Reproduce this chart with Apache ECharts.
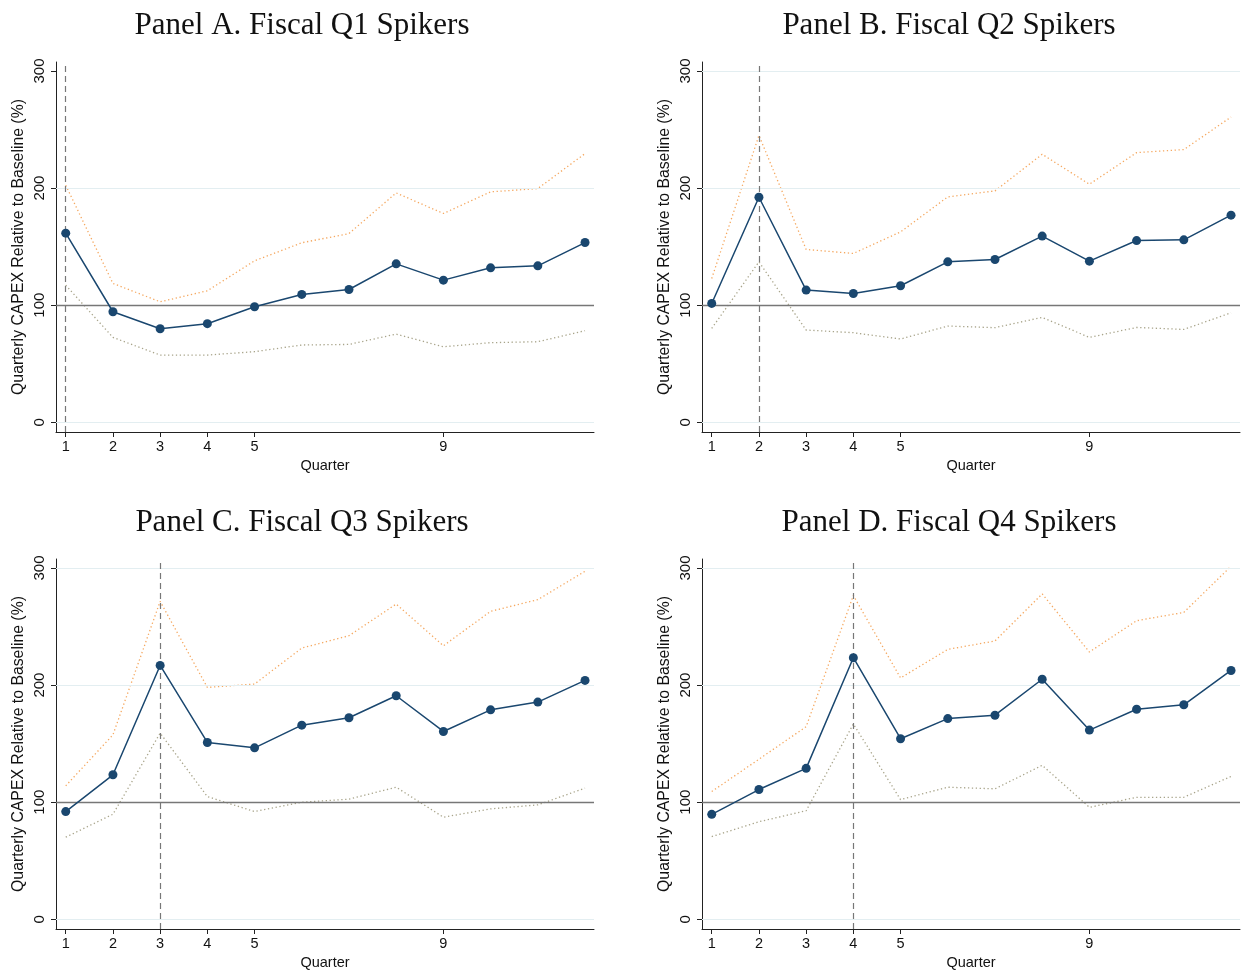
<!DOCTYPE html>
<html>
<head>
<meta charset="utf-8">
<script src="https://cdn.jsdelivr.net/npm/echarts@6/dist/echarts.min.js"></script>
<style>
html,body{margin:0;padding:0;background:#fff;}
#chart{width:1248px;height:972px;}
</style>
</head>
<body>
<div id="chart"></div>
<script>
// ---- data ----
const quarters = [1,2,3,4,5,6,7,8,9,10,11,12];
const xTickLabels = [1,2,3,4,5,9];
const yTickValues = [0,100,200,300];
const baselineValue = 100;

const panelTitles = [
  'Panel A. Fiscal Q1 Spikers',
  'Panel B. Fiscal Q2 Spikers',
  'Panel C. Fiscal Q3 Spikers',
  'Panel D. Fiscal Q4 Spikers'
];
const spikeQuarters = [1,2,3,4];

const aEstimate = [161.5, 94.4, 79.9, 84.2, 98.7, 109.2, 113.4, 135.3, 121.4, 131.9, 133.6, 153.5];
const aUpper    = [202.4, 118.6, 102.9, 112.3, 137.9, 153.3, 161.2, 195.9, 178.3, 196.8, 199.6, 229.5];
const aLower    = [117.1, 72.5, 57.4, 57.4, 60.3, 66.0, 66.5, 75.3, 64.5, 68.0, 68.8, 78.2];

const bEstimate = [101.5, 192.2, 112.9, 110.0, 116.6, 137.0, 139.0, 159.0, 137.6, 155.2, 155.8, 176.9];
const bUpper    = [122.8, 245.0, 147.6, 144.2, 162.6, 192.5, 197.6, 228.9, 203.3, 230.3, 232.9, 260.7];
const bLower    = [80.2, 137.0, 78.8, 76.5, 71.1, 82.2, 80.8, 89.6, 72.5, 81.0, 79.3, 93.5];

const cEstimate = [92.0, 123.4, 216.8, 151.0, 146.4, 165.8, 172.1, 190.9, 160.4, 178.9, 185.5, 204.0];
const cUpper    = [114.0, 157.5, 271.5, 198.0, 200.9, 231.6, 242.2, 269.2, 233.6, 263.0, 273.0, 297.2];
const cLower    = [70.1, 89.7, 159.0, 104.8, 92.0, 100.0, 102.6, 112.8, 87.2, 94.3, 97.7, 112.0];

const dEstimate = [89.6, 110.8, 128.9, 223.4, 154.2, 171.4, 174.3, 205.0, 161.6, 179.4, 183.2, 212.5];
const dUpper    = [109.1, 136.7, 164.5, 276.5, 206.1, 230.5, 237.7, 277.9, 228.3, 255.0, 262.1, 301.5];
const dLower    = [70.6, 83.3, 92.7, 166.8, 102.2, 112.8, 111.4, 131.5, 95.6, 104.2, 104.2, 122.0];

const panelGridValues = [[0,200],[0,200,300],[0,200,300],[0,200,300]];

// ---- layout ----
const estimates = [aEstimate, bEstimate, cEstimate, dEstimate];
const uppers = [aUpper, bUpper, cUpper, dUpper];
const lowers = [aLower, bLower, cLower, dLower];

const gridLefts = [56, 702, 56, 702];
const gridTops = [62, 62, 559, 559];
const gridW = 538, gridH = 370;
const titleX = [297, 944, 297, 944];
const titleY = [5, 5, 502, 502];

const navy = '#1a476f';
const sans = 'Liberation Sans, Arial, sans-serif';

const option = {
  animation: false,
  backgroundColor: '#fff',
  title: [], grid: [], xAxis: [], yAxis: [], series: []
};

for (let i = 0; i < 4; i++) {
  option.title.push({
    text: panelTitles[i],
    left: titleX[i], top: titleY[i], textAlign: 'center',
    textStyle: {fontFamily: 'Liberation Serif, Times New Roman, serif', fontSize: 31, fontWeight: 'normal', color: '#111'}
  });
  option.grid.push({left: gridLefts[i], top: gridTops[i], width: gridW, height: gridH, containLabel: false});
  option.xAxis.push({
    type: 'value', gridIndex: i, min: 0.794, max: 12.19,
    name: 'Quarter', nameLocation: 'middle', nameGap: 26,
    nameTextStyle: {fontFamily: sans, fontSize: 14.5, color: '#111'},
    axisLine: {show: true, onZero: false, lineStyle: {color: '#222', width: 1}},
    axisTick: {show: true, length: 5, lineStyle: {color: '#222'}, customValues: xTickLabels},
    axisLabel: {fontFamily: sans, fontSize: 14.5, color: '#111', margin: 7, customValues: xTickLabels},
    splitLine: {show: false}
  });
  option.yAxis.push({
    type: 'value', gridIndex: i, min: -8.3, max: 307.7,
    name: 'Quarterly CAPEX Relative to Baseline (%)', nameLocation: 'middle', nameGap: 29, nameRotate: 90,
    nameTextStyle: {fontFamily: sans, fontSize: 15.8, color: '#111'},
    axisLine: {show: true, onZero: false, lineStyle: {color: '#222', width: 1}},
    axisTick: {show: true, length: 5, lineStyle: {color: '#222'}, customValues: yTickValues},
    axisLabel: {fontFamily: sans, fontSize: 15, color: '#111', rotate: 90, margin: 9, customValues: yTickValues},
    splitLine: {show: false}
  });
  const pts = (arr) => quarters.map((q, k) => [q, arr[k]]);
  option.series.push({
    type: 'line', xAxisIndex: i, yAxisIndex: i, data: pts(lowers[i]), symbol: 'none',
    lineStyle: {color: '#a8a48a', width: 1.3, type: [1.3, 2.6]}, z: 2, silent: true,
    markLine: {
      silent: true, symbol: 'none', label: {show: false},
      lineStyle: {color: '#e3eef1', width: 1.2, type: 'solid'},
      data: panelGridValues[i].map(v => ({yAxis: v}))
    }
  });
  option.series.push({
    type: 'line', xAxisIndex: i, yAxisIndex: i, data: pts(uppers[i]), symbol: 'none',
    lineStyle: {color: '#f5a860', width: 1.3, type: [1.3, 2.6]}, z: 3, silent: true,
    markLine: {
      silent: true, symbol: 'none', label: {show: false},
      data: [
        {yAxis: baselineValue, lineStyle: {color: '#777', width: 1.3, type: 'solid'}},
        {xAxis: spikeQuarters[i], lineStyle: {color: '#777', width: 1.2, type: [6, 4]}}
      ]
    }
  });
  option.series.push({
    type: 'line', xAxisIndex: i, yAxisIndex: i, data: pts(estimates[i]),
    symbol: 'circle', symbolSize: 9,
    itemStyle: {color: navy}, lineStyle: {color: navy, width: 1.5}, z: 5
  });
}

const chart = echarts.init(document.getElementById('chart'), null, {renderer: 'canvas'});
chart.setOption(option);
</script>
</body>
</html>
